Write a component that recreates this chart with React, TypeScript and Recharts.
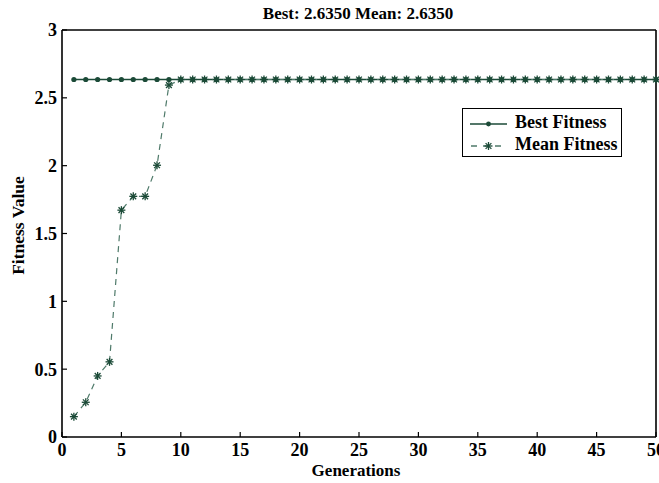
import React from 'react';
import { LineChart, Line, XAxis, YAxis, Legend } from 'recharts';

const generations = [1,2,3,4,5,6,7,8,9,10,11,12,13,14,15,16,17,18,19,20,21,22,23,24,25,26,27,28,29,30,31,32,33,34,35,36,37,38,39,40,41,42,43,44,45,46,47,48,49,50];
const bestFitness = [2.635,2.635,2.635,2.635,2.635,2.635,2.635,2.635,2.635,2.635,2.635,2.635,2.635,2.635,2.635,2.635,2.635,2.635,2.635,2.635,2.635,2.635,2.635,2.635,2.635,2.635,2.635,2.635,2.635,2.635,2.635,2.635,2.635,2.635,2.635,2.635,2.635,2.635,2.635,2.635,2.635,2.635,2.635,2.635,2.635,2.635,2.635,2.635,2.635,2.635];
const meanFitness = [0.15,0.256,0.45,0.554,1.672,1.774,1.774,2.003,2.594,2.635,2.635,2.635,2.635,2.635,2.635,2.635,2.635,2.635,2.635,2.635,2.635,2.635,2.635,2.635,2.635,2.635,2.635,2.635,2.635,2.635,2.635,2.635,2.635,2.635,2.635,2.635,2.635,2.635,2.635,2.635,2.635,2.635,2.635,2.635,2.635,2.635,2.635,2.635,2.635,2.635];
const xTicks = [0,5,10,15,20,25,30,35,40,45,50];
const yTicks = [0,0.5,1,1.5,2,2.5,3];
const titleText = 'Best: 2.6350 Mean: 2.6350';
const xLabel = 'Generations';
const yLabel = 'Fitness Value';
const seriesNames = ['Best Fitness', 'Mean Fitness'];

const data = generations.map((g, i) => ({ gen: g, best: bestFitness[i], mean: meanFitness[i] }));

const FONT = '"Liberation Serif", "Times New Roman", serif';
const DARK = '#1b4a37';
const MEAN_LINE = '#4f7a6a';

const tickStyle = { fontFamily: FONT, fontWeight: 'bold', fontSize: 18, fill: '#000' };

const Asterisk = (props: any) => {
  const { cx, cy } = props;
  if (cx == null || cy == null) return null;
  const r = 4;
  const d = r * 0.72;
  return (
    <g stroke={DARK} strokeWidth={1.3}>
      <line x1={cx - r} y1={cy} x2={cx + r} y2={cy} />
      <line x1={cx} y1={cy - r} x2={cx} y2={cy + r} />
      <line x1={cx - d} y1={cy - d} x2={cx + d} y2={cy + d} />
      <line x1={cx - d} y1={cy + d} x2={cx + d} y2={cy - d} />
    </g>
  );
};

const Circle = (props: any) => {
  const { cx, cy } = props;
  if (cx == null || cy == null) return null;
  return <circle cx={cx} cy={cy} r={2.6} fill={DARK} stroke="none" />;
};

const TitleLabel = (props: any) => {
  const vb = props.viewBox || {};
  return (
    <text x={vb.x + vb.width / 2 - 1} y={vb.y + vb.height - 12} textAnchor="middle" fontFamily={FONT} fontWeight="bold" fontSize={17} fill="#000">
      {titleText}
    </text>
  );
};

const XLabel = (props: any) => {
  const vb = props.viewBox || {};
  return (
    <text x={vb.x + vb.width / 2 - 3} y={vb.y + 39} textAnchor="middle" fontFamily={FONT} fontWeight="bold" fontSize={17} fill="#000">
      {xLabel}
    </text>
  );
};

const YLabel = (props: any) => {
  const vb = props.viewBox || {};
  const x = vb.x + 24;
  const y = vb.y + vb.height / 2 - 8;
  return (
    <text x={x} y={y} textAnchor="middle" transform={`rotate(-90, ${x}, ${y})`} fontFamily={FONT} fontWeight="bold" fontSize={17.5} fill="#000">
      {yLabel}
    </text>
  );
};

const LegendBox = () => (
  <div style={{ width: 160, height: 49, border: '1.5px solid #000', background: '#fff', boxSizing: 'border-box', fontFamily: FONT, fontWeight: 'bold', fontSize: 18, color: '#000', position: 'relative' }}>
    <svg width={52} height={48} style={{ position: 'absolute', left: 0, top: 0 }}>
      <line x1={7} y1={15} x2={44} y2={15} stroke={DARK} strokeWidth={1.3} />
      <circle cx={25.5} cy={15} r={2.4} fill={DARK} />
      <line x1={7} y1={37} x2={44} y2={37} stroke={MEAN_LINE} strokeWidth={1.3} strokeDasharray="6 6" strokeDashoffset={-1} />
      <Asterisk cx={25.5} cy={37} />
    </svg>
    <div style={{ position: 'absolute', left: 52, top: 3, lineHeight: '20px', whiteSpace: 'nowrap' }}>{seriesNames[0]}</div>
    <div style={{ position: 'absolute', left: 52, top: 25, lineHeight: '20px', whiteSpace: 'nowrap' }}>{seriesNames[1]}</div>
  </div>
);

const axisLine = { stroke: '#000', strokeWidth: 1.6 };
const tickLine = { stroke: '#000', strokeWidth: 1.2 };

export default function App() {
  return (
    <div style={{ position: 'absolute', left: 0, top: 0, width: 659, height: 483, background: '#fff' }}>
      <LineChart width={659} height={483} data={data} margin={{ top: 30, right: 3, left: 0, bottom: 0 }}>
        <XAxis
          xAxisId="b"
          dataKey="gen"
          type="number"
          domain={[0, 50]}
          ticks={xTicks}
          height={46}
          tickSize={-5}
          tickMargin={11}
          tick={tickStyle}
          axisLine={axisLine}
          tickLine={tickLine}
          interval={0}
          label={<XLabel />}
        />
        <XAxis
          xAxisId="t"
          orientation="top"
          dataKey="gen"
          type="number"
          domain={[0, 50]}
          ticks={xTicks}
          height={1}
          mirror
          tickSize={5}
          tick={false}
          axisLine={axisLine}
          tickLine={tickLine}
          interval={0}
          label={<TitleLabel />}
        />
        <YAxis
          yAxisId="l"
          type="number"
          domain={[0, 3]}
          ticks={yTicks}
          width={62}
          tickSize={-5}
          tickMargin={10}
          tick={tickStyle}
          axisLine={axisLine}
          tickLine={tickLine}
          interval={0}
          label={<YLabel />}
        />
        <YAxis
          yAxisId="r"
          orientation="right"
          type="number"
          domain={[0, 3]}
          ticks={yTicks}
          width={1}
          mirror
          tickSize={5}
          tick={false}
          axisLine={axisLine}
          tickLine={tickLine}
          interval={0}
        />
        <Legend
          layout="vertical"
          align="center"
          verticalAlign="middle"
          content={<LegendBox />}
          wrapperStyle={{ position: 'absolute', left: 462, top: 108, width: 160, height: 49 }}
        />
        <Line
          xAxisId="b"
          yAxisId="l"
          dataKey="best"
          name={seriesNames[0]}
          stroke={DARK}
          strokeWidth={1.4}
          dot={<Circle />}
          activeDot={false}
          isAnimationActive={false}
        />
        <Line
          xAxisId="b"
          yAxisId="l"
          dataKey="mean"
          name={seriesNames[1]}
          stroke={MEAN_LINE}
          strokeWidth={1.2}
          strokeDasharray="6 5"
          dot={<Asterisk />}
          activeDot={false}
          isAnimationActive={false}
        />
      </LineChart>
    </div>
  );
}
